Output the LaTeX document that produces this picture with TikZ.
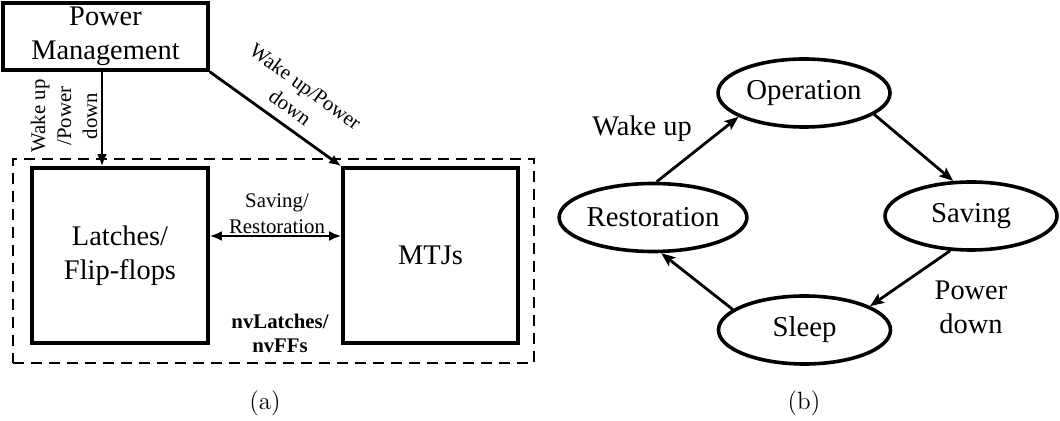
\documentclass[tikz,border=0pt]{standalone}
\usepackage{fontspec}
\newfontfamily\tnr{Liberation Serif}
\usetikzlibrary{arrows.meta,shapes.geometric}
\begin{document}
\begin{tikzpicture}[x=0.5pt,y=-0.5pt,
  big/.style={font=\tnr\fontsize{14.2}{17}\selectfont, align=center, inner sep=0pt},
  small/.style={font=\tnr\fontsize{10.4}{13}\selectfont, align=center, inner sep=0pt},
  blk/.style={draw, line width=1.8pt, inner sep=0pt},
  st/.style={ellipse, draw, line width=1.8pt, minimum width=86pt, minimum height=34pt, inner sep=0pt, font=\tnr\fontsize{14.4}{17}\selectfont},
  arr/.style={line width=1.4pt, -{Latex[length=6pt,width=5pt]}},
  darr/.style={line width=1.4pt, {Latex[length=6pt,width=5pt]}-{Latex[length=6pt,width=5pt]}},
  arrb/.style={line width=1.4pt, -{Stealth[length=7pt,width=5.5pt,inset=1.5pt]}},
  dbox/.style={draw, line width=1.2pt, dash pattern=on 5.5pt off 3.5pt, inner sep=0pt},
  subcap/.style={font=\fontsize{12.5}{14}\selectfont, inner sep=0pt}]
\useasboundingbox (0,0) rectangle (1060,421);
% (a)
\node[dbox, minimum width=260.5pt, minimum height=102pt] (nv) at (273.5,261) {};
\node[blk, big, minimum width=102.5pt, minimum height=33.5pt] (pm) at (105.5,36.5) {Power\\Management};
\node[blk, big, minimum width=88pt, minimum height=87.5pt] (lat) at (120,255.5) {Latches/\\Flip-flops};
\node[blk, big, minimum width=87.5pt, minimum height=87.5pt] (mtj) at (430.5,255.5) {MTJs};
\draw[arr] ([xshift=-1.75pt]pm.south) -- ([xshift=-1.75pt]pm.south |- lat.north);
\draw[arr] (pm.south east) -- (mtj.north west);
\draw[darr] ([yshift=9.75pt]lat.east) -- ([yshift=9.75pt]mtj.west);
\node[small, rotate=90] (l1) at (64,116) {Wake up\\/Power\\down};
\node[small, rotate=-36] (l2) at (298,97) {Wake up/Power\\down};
\node[small] (l3) at (277,214) {Saving/\\Restoration};
\node[small, font=\tnr\bfseries\fontsize{10.4}{12}\selectfont] (l4) at (280,333.5) {nvLatches/\\nvFFs};
\node[subcap] (ca) at (265,403) {(a)};
% (b)
\node[st] (op) at (804,93) {Operation};
\node[st] (rest) at (653,217.5) {Restoration};
\node[st] (sav) at (971,216) {Saving};
\node[st] (sl) at (804.5,330) {Sleep};
\draw[arrb] (rest.84) -- (op.200);
\draw[arrb] (op.-17) -- (sav.117);
\draw[arrb] (sav.-121) -- (sl.20);
\draw[arrb] (sl.164) -- (rest.-77);
\node[big] (wu) at (642,129) {Wake up};
\node[big] (pd) at (971,307) {Power\\down};
\node[subcap] (cb) at (804,403) {(b)};
\end{tikzpicture}
\end{document}
